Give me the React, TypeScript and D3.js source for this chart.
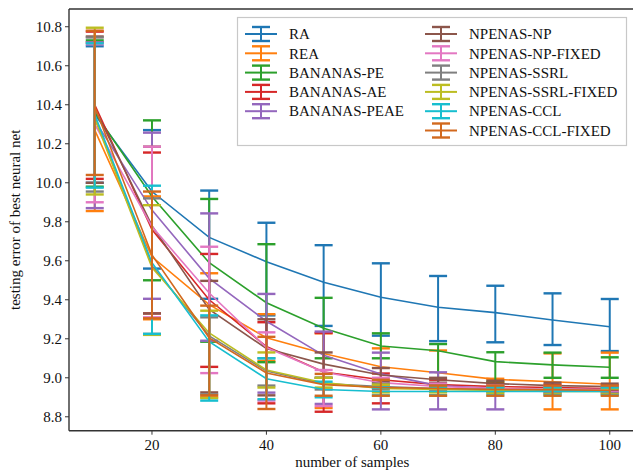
import React from "react";
import * as d3 from "d3";

const samples = [10, 20, 30, 40, 50, 60, 70, 80, 90, 100];
const seriesNames = [
  "RA", "REA", "BANANAS-PE", "BANANAS-AE", "BANANAS-PEAE",
  "NPENAS-NP", "NPENAS-NP-FIXED", "NPENAS-SSRL", "NPENAS-SSRL-FIXED", "NPENAS-CCL", "NPENAS-CCL-FIXED",
];
const seriesColors = [
  "#1f77b4", "#ff7f0e", "#2ca02c", "#d62728", "#9467bd",
  "#8c564b", "#e377c2", "#7f7f7f", "#bcbd22", "#17becf", "#d2691e",
];

// means
const meanRA = [10.35, 9.955, 9.72, 9.595, 9.49, 9.413, 9.362, 9.334, 9.296, 9.262];
const meanREA = [10.27, 9.62, 9.375, 9.205, 9.125, 9.057, 9.026, 8.992, 8.98, 8.967];
const meanPE = [10.36, 9.93, 9.59, 9.385, 9.254, 9.163, 9.139, 9.083, 9.066, 9.054];
const meanAE = [10.4, 9.76, 9.4, 9.16, 9.03, 8.99, 8.965, 8.955, 8.95, 8.945];
const meanPEAE = [10.32, 9.86, 9.51, 9.29, 9.115, 9.02, 8.96, 8.945, 8.94, 8.94];
const meanNP = [10.38, 9.78, 9.35, 9.15, 9.07, 9.014, 8.99, 8.97, 8.96, 8.955];
const meanNPF = [10.3, 9.775, 9.435, 9.155, 9.03, 8.975, 8.955, 8.945, 8.94, 8.94];
const meanSSRL = [10.34, 9.575, 9.215, 9.035, 8.97, 8.955, 8.945, 8.94, 8.935, 8.935];
const meanSSRLF = [10.33, 9.565, 9.23, 9.04, 8.975, 8.945, 8.94, 8.935, 8.93, 8.93];
const meanCCL = [10.35, 9.59, 9.185, 8.995, 8.94, 8.93, 8.93, 8.93, 8.93, 8.93];
const meanCCLF = [10.39, 9.63, 9.205, 9.025, 8.965, 8.95, 8.945, 8.94, 8.94, 8.935];

// upper error-bar ends
const hiRA = [10.7, 10.27, 9.96, 9.795, 9.68, 9.587, 9.522, 9.472, 9.433, 9.404];
const hiREA = [10.72, 9.93, 9.536, 9.326, 9.228, 9.151, 9.14, 8.995, 9.125, 9.129];
const hiPE = [10.73, 10.32, 9.917, 9.685, 9.41, 9.228, 9.173, 9.131, 9.129, 9.105];
const hiAE = [10.775, 10.155, 9.635, 9.285, 9.23, 9.022, 8.99, 8.97, 8.965, 8.96];
const hiPEAE = [10.72, 10.257, 9.843, 9.43, 9.237, 9.129, 9.028, 8.96, 8.955, 8.955];
const hiNP = [10.75, 10.185, 9.497, 9.3, 9.13, 9.05, 9.0, 8.985, 8.975, 8.97];
const hiNPF = [10.71, 10.185, 9.672, 9.233, 9.04, 9.0, 8.97, 8.96, 8.955, 8.955];
const hiSSRL = [10.745, 9.92, 9.31, 9.1, 9.0, 8.97, 8.96, 8.955, 8.95, 8.95];
const hiSSRLF = [10.795, 9.885, 9.344, 9.13, 9.0, 8.965, 8.955, 8.95, 8.945, 8.945];
const hiCCL = [10.715, 9.985, 9.32, 9.1, 8.98, 8.95, 8.95, 8.95, 8.95, 8.95];
const hiCCLF = [10.78, 9.955, 9.37, 9.21, 9.02, 8.99, 8.96, 8.96, 8.96, 8.96];

// lower error-bar ends
const loRA = [10.0, 9.56, 9.405, 9.32, 9.266, 9.216, 9.188, 9.182, 9.168, 9.137];
const loREA = [9.855, 9.3, 8.9, 9.085, 8.845, 8.96, 8.91, 8.975, 8.838, 8.838];
const loPE = [9.98, 9.5, 9.185, 9.08, 9.1, 9.1, 8.95, 8.98, 9.0, 9.0];
const loAE = [10.02, 9.33, 9.056, 8.869, 8.826, 8.869, 8.94, 8.94, 8.935, 8.93];
const loPEAE = [9.87, 9.405, 9.19, 8.924, 8.866, 8.838, 8.838, 8.838, 8.925, 8.925];
const loNP = [10.0, 9.33, 8.925, 8.91, 9.0, 8.98, 8.975, 8.955, 8.945, 8.94];
const loNPF = [9.9, 9.31, 9.024, 8.883, 8.855, 8.95, 8.94, 8.93, 8.925, 8.925];
const loSSRL = [9.955, 9.225, 8.915, 8.96, 8.94, 8.94, 8.93, 8.925, 8.92, 8.92];
const loSSRLF = [9.94, 9.22, 8.896, 8.95, 8.95, 8.925, 8.925, 8.92, 8.915, 8.915];
const loCCL = [9.975, 9.225, 8.883, 8.89, 8.9, 8.91, 8.91, 8.91, 8.91, 8.91];
const loCCLF = [10.04, 9.305, 8.91, 8.84, 8.908, 8.908, 8.908, 8.908, 8.908, 8.908];

const xTicks = [20, 40, 60, 80, 100];
const yTicks = [8.8, 9.0, 9.2, 9.4, 9.6, 9.8, 10.0, 10.2, 10.4, 10.6, 10.8];

const means = [meanRA, meanREA, meanPE, meanAE, meanPEAE, meanNP, meanNPF, meanSSRL, meanSSRLF, meanCCL, meanCCLF];
const his = [hiRA, hiREA, hiPE, hiAE, hiPEAE, hiNP, hiNPF, hiSSRL, hiSSRLF, hiCCL, hiCCLF];
const los = [loRA, loREA, loPE, loAE, loPEAE, loNP, loNPF, loSSRL, loSSRLF, loCCL, loCCLF];

const W = 633;
const H = 471;
const L = 69, R = 635.5, T = 9, B = 430.7;
const FONT = '"Liberation Serif", "DejaVu Serif", Times, serif';
const txt = { fontFamily: FONT };

export default function App() {
  const x = d3.scaleLinear().domain([5.5, 104.5]).range([L, R]);
  const y = d3.scaleLinear().domain([8.7287, 10.891]).range([B, T]);
  const line = d3.line<number>().x((_, i) => x(samples[i])).y((d) => y(d));
  const capHalf = 9;

  return (
    <svg width={W} height={H} style={{ position: "absolute", left: 0, top: 0, background: "#fff", fontFamily: FONT }}>
      <rect x={0} y={0} width={W} height={H} fill="#fff" />
      {seriesNames.map((name, s) => (
        <g key={name} stroke={seriesColors[s]} fill="none">
          <path d={line(means[s]) || ""} strokeWidth={1.6} />
          {samples.map((sx, i) => {
            const cx = x(sx);
            const yh = y(his[s][i]);
            const yl = y(los[s][i]);
            return (
              <g key={i} strokeWidth={2}>
                <line x1={cx} x2={cx} y1={yh} y2={yl} />
                <line x1={cx - capHalf} x2={cx + capHalf} y1={yh} y2={yh} strokeWidth={2.4} />
                <line x1={cx - capHalf} x2={cx + capHalf} y1={yl} y2={yl} strokeWidth={2.4} />
              </g>
            );
          })}
        </g>
      ))}
      {/* spines */}
      <line x1={L} x2={L} y1={T} y2={B} stroke="#333" strokeWidth={1.4} />
      <line x1={L} x2={R} y1={B} y2={B} stroke="#333" strokeWidth={1.4} />
      <line x1={L} x2={R} y1={T} y2={T} stroke="#333" strokeWidth={1.4} />
      <line x1={R} x2={R} y1={T} y2={B} stroke="#333" strokeWidth={1.4} />
      {/* y ticks */}
      {yTicks.map((t) => (
        <g key={t}>
          <line x1={L - 4} x2={L} y1={y(t)} y2={y(t)} stroke="#333" strokeWidth={1} />
          <text x={L - 7} y={y(t)} dy="0.35em" textAnchor="end" fontSize={15} fill="#111" style={txt}>
            {t.toFixed(1)}
          </text>
        </g>
      ))}
      {/* x ticks */}
      {xTicks.map((t) => (
        <g key={t}>
          <line x1={x(t)} x2={x(t)} y1={B} y2={B + 4} stroke="#333" strokeWidth={1} />
          <text x={x(t)} y={B + 19} textAnchor="middle" fontSize={15} fill="#111" style={txt}>
            {t}
          </text>
        </g>
      ))}
      <text x={(L + R) / 2} y={467} textAnchor="middle" fontSize={15} fill="#111" style={txt}>
        number of samples
      </text>
      <text
        transform={`translate(20, ${(T + B) / 2}) rotate(-90)`}
        textAnchor="middle"
        fontSize={15}
        fill="#111"
        style={txt}
      >
        testing error of best neural net
      </text>
      {/* legend */}
      <rect x={237.5} y={17.5} width={389} height={128} fill="#fff" stroke="#c8c8c8" strokeWidth={1.2} />
      {seriesNames.map((name, s) => {
        const col = s < 5 ? 0 : 1;
        const row = s < 5 ? s : s - 5;
        const hx = col === 0 ? 245 : 425;
        const tx = col === 0 ? 289 : 469;
        const ry = 34 + row * 19.3;
        const c = seriesColors[s];
        return (
          <g key={name}>
            <line x1={hx} x2={hx + 32} y1={ry} y2={ry} stroke={c} strokeWidth={2} />
            <line x1={hx + 16} x2={hx + 16} y1={ry - 7} y2={ry + 7} stroke={c} strokeWidth={2} />
            <line x1={hx + 7} x2={hx + 25} y1={ry - 7} y2={ry - 7} stroke={c} strokeWidth={2.4} />
            <line x1={hx + 7} x2={hx + 25} y1={ry + 7} y2={ry + 7} stroke={c} strokeWidth={2.4} />
            <text x={tx} y={ry} dy="0.35em" fontSize={15} fill="#111" style={txt}>
              {name}
            </text>
          </g>
        );
      })}
    </svg>
  );
}
